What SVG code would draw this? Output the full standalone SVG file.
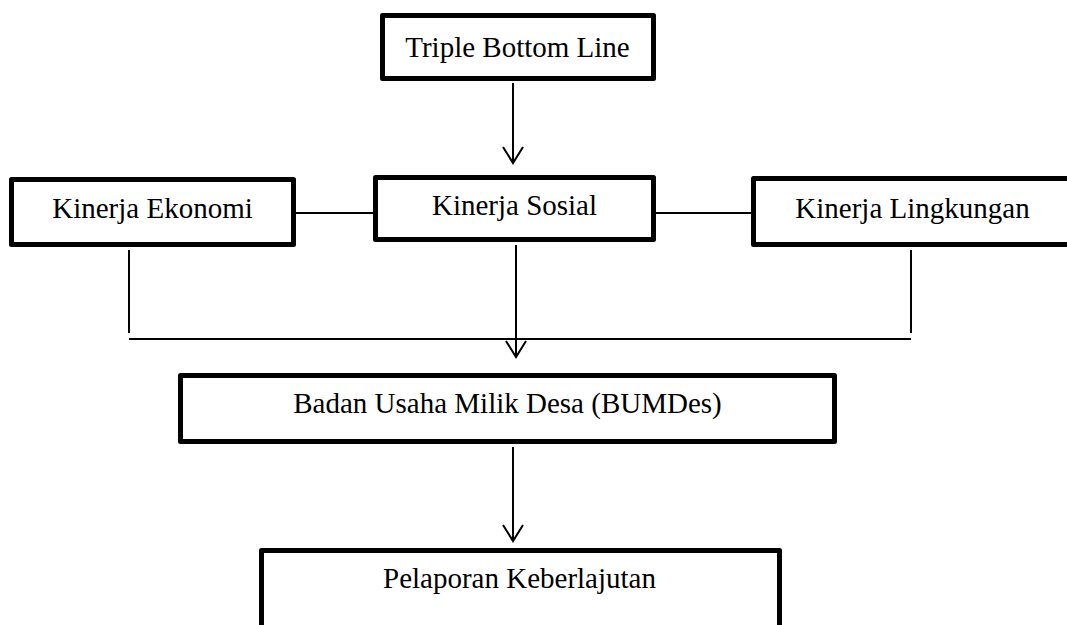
<svg xmlns="http://www.w3.org/2000/svg" width="1067" height="625" viewBox="0 0 1067 625">
  <defs>
    <style>
      .box { fill: #ffffff; stroke: #000000; stroke-width: 5; stroke-linejoin: round; }
      .lbl { font-family: "Liberation Serif", "Times New Roman", serif; font-size: 29px; fill: #000000; text-anchor: middle; }
      .conn { fill: none; stroke: #000000; stroke-width: 2; }
    </style>
    <marker id="arrow" viewBox="-18 -12 20 24" markerWidth="20" markerHeight="24" refX="0" refY="0" orient="auto" markerUnits="userSpaceOnUse" overflow="visible">
      <path d="M-16,-10 L0,0 L-16,10" fill="none" stroke="#000000" stroke-width="2"/>
    </marker>
  </defs>
  <rect width="1067" height="625" fill="#ffffff"/>

  <g id="connectors">
    <line class="conn" x1="513" y1="83" x2="513" y2="163" marker-end="url(#arrow)"/>
    <line class="conn" x1="296" y1="213" x2="373" y2="213"/>
    <line class="conn" x1="656" y1="213" x2="751" y2="213"/>
    <line class="conn" x1="129" y1="250" x2="129" y2="333"/>
    <line class="conn" x1="911" y1="250" x2="911" y2="333"/>
    <line class="conn" x1="129" y1="339" x2="911" y2="339"/>
    <line class="conn" x1="516" y1="245" x2="516" y2="357" marker-end="url(#arrow)"/>
    <line class="conn" x1="513" y1="447" x2="513" y2="541" marker-end="url(#arrow)"/>
  </g>

  <g id="node-tbl">
    <rect class="box" x="382.5" y="15.5" width="271" height="63"/>
    <text class="lbl" x="517.5" y="57">Triple Bottom Line</text>
  </g>
  <g id="node-ekonomi">
    <rect class="box" x="11.5" y="179.5" width="282" height="65"/>
    <text class="lbl" x="152.5" y="218">Kinerja Ekonomi</text>
  </g>
  <g id="node-sosial">
    <rect class="box" x="375.5" y="177.5" width="278" height="62"/>
    <text class="lbl" x="514.5" y="215">Kinerja Sosial</text>
  </g>
  <g id="node-lingkungan">
    <rect class="box" x="753.5" y="178.5" width="320" height="66"/>
    <text class="lbl" x="912.5" y="218">Kinerja Lingkungan</text>
  </g>
  <g id="node-bumdes">
    <rect class="box" x="180.5" y="375.5" width="654" height="66"/>
    <text class="lbl" x="507.5" y="413">Badan Usaha Milik Desa (BUMDes)</text>
  </g>
  <g id="node-pelaporan">
    <rect class="box" x="261.5" y="550.5" width="518" height="110"/>
    <text class="lbl" x="519.5" y="588">Pelaporan Keberlajutan</text>
  </g>
</svg>
